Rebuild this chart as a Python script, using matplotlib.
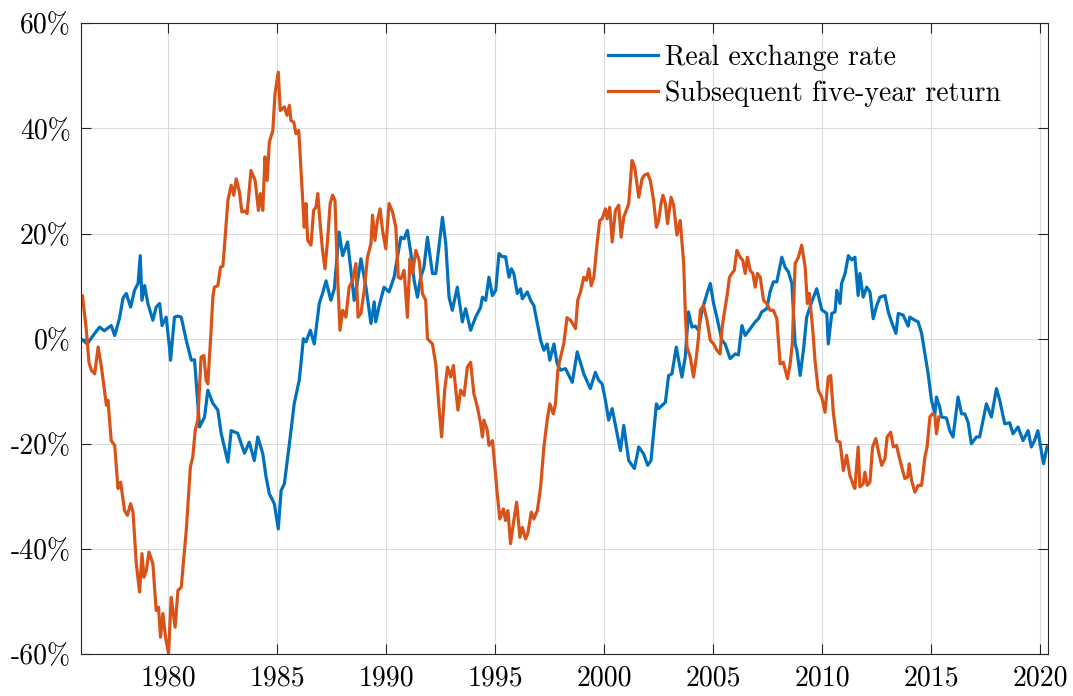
import matplotlib
matplotlib.use("Agg")
import matplotlib.pyplot as plt
from matplotlib.ticker import FuncFormatter

plt.rcParams['font.family'] = ['cmr10', 'DejaVu Serif']
plt.rcParams['mathtext.fontset'] = 'cm'
plt.rcParams['axes.unicode_minus'] = False

# real exchange rate (%)
rer_year = [1976.00, 1976.11, 1976.30, 1976.64, 1976.87, 1977.08, 1977.40, 1977.56, 1977.78, 1977.94,
            1978.09, 1978.29, 1978.47, 1978.63, 1978.73, 1978.81, 1978.93, 1979.08, 1979.31, 1979.46,
            1979.62, 1979.73, 1979.92, 1980.07, 1980.12, 1980.30, 1980.46, 1980.61, 1980.84, 1981.07,
            1981.22, 1981.45, 1981.68, 1981.83, 1982.06, 1982.29, 1982.44, 1982.75, 1982.90, 1983.20,
            1983.51, 1983.73, 1983.96, 1984.12, 1984.35, 1984.50, 1984.65, 1984.88, 1985.06, 1985.19,
            1985.34, 1985.57, 1985.79, 1986.02, 1986.10, 1986.21, 1986.33, 1986.53, 1986.71, 1986.94,
            1987.09, 1987.25, 1987.47, 1987.63, 1987.85, 1988.01, 1988.24, 1988.39, 1988.54, 1988.70,
            1988.85, 1989.08, 1989.31, 1989.46, 1989.53, 1989.69, 1989.91, 1990.14, 1990.37, 1990.68,
            1990.83, 1990.98, 1991.14, 1991.29, 1991.44, 1991.59, 1991.74, 1991.90, 1992.13, 1992.28,
            1992.59, 1992.74, 1992.89, 1993.04, 1993.27, 1993.50, 1993.65, 1993.88, 1994.11, 1994.34,
            1994.42, 1994.57, 1994.72, 1994.88, 1995.03, 1995.18, 1995.33, 1995.48, 1995.64, 1995.75,
            1995.86, 1996.02, 1996.17, 1996.25, 1996.48, 1996.63, 1996.78, 1996.94, 1997.09, 1997.24,
            1997.39, 1997.51, 1997.70, 1997.85, 1998.00, 1998.23, 1998.54, 1998.77, 1998.84, 1999.07,
            1999.37, 1999.60, 1999.75, 1999.91, 2000.06, 2000.21, 2000.37, 2000.60, 2000.75, 2000.90,
            2001.13, 2001.39, 2001.59, 2001.81, 2002.00, 2002.15, 2002.40, 2002.50, 2002.81, 2002.96,
            2003.11, 2003.31, 2003.42, 2003.57, 2003.72, 2003.87, 2004.03, 2004.18, 2004.33, 2004.49,
            2004.72, 2004.87, 2005.02, 2005.17, 2005.40, 2005.55, 2005.78, 2006.01, 2006.16, 2006.32,
            2006.47, 2006.70, 2006.93, 2007.08, 2007.23, 2007.46, 2007.61, 2007.76, 2007.92, 2008.15,
            2008.30, 2008.45, 2008.61, 2008.76, 2008.84, 2008.99, 2009.14, 2009.29, 2009.52, 2009.75,
            2009.98, 2010.21, 2010.28, 2010.44, 2010.59, 2010.67, 2010.82, 2010.89, 2011.05, 2011.20,
            2011.35, 2011.50, 2011.65, 2011.73, 2011.88, 2012.04, 2012.19, 2012.34, 2012.50, 2012.65,
            2012.88, 2013.03, 2013.18, 2013.38, 2013.49, 2013.71, 2013.94, 2014.02, 2014.25, 2014.40,
            2014.56, 2014.71, 2014.86, 2015.01, 2015.17, 2015.24, 2015.39, 2015.47, 2015.70, 2015.85,
            2016.00, 2016.23, 2016.39, 2016.54, 2016.69, 2016.84, 2017.07, 2017.22, 2017.38, 2017.53,
            2017.76, 2017.99, 2018.14, 2018.37, 2018.60, 2018.75, 2018.98, 2019.21, 2019.44, 2019.59,
            2019.74, 2019.89, 2019.97, 2020.15, 2020.31]
rer_val = [0.0, -0.3, -1.0, 1.0, 2.2, 1.5, 2.5, 0.6, 3.9, 7.7,
           8.6, 6.0, 9.2, 10.5, 15.8, 7.3, 10.1, 6.7, 3.5, 6.0,
           6.7, 2.5, 4.1, -1.6, -4.1, 4.1, 4.3, 4.1, -0.3, -4.1,
           -4.0, -16.8, -14.9, -9.8, -12.3, -13.6, -18.0, -23.5, -17.5, -18.0,
           -21.8, -19.7, -23.2, -18.7, -21.9, -26.3, -29.5, -31.4, -36.2, -28.9,
           -27.6, -20.0, -12.4, -7.9, -4.8, 0.0, -0.6, 1.6, -1.0, 6.7,
           8.6, 11.0, 7.3, 9.5, 20.3, 15.8, 18.4, 13.0, 7.3, 11.1,
           15.2, 9.8, 2.9, 7.0, 3.2, 6.3, 9.8, 8.9, 11.7, 19.3,
           19.0, 20.6, 16.2, 11.1, 7.9, 11.7, 13.6, 19.3, 12.4, 12.4,
           23.1, 18.1, 7.9, 5.4, 9.8, 3.2, 5.7, 1.6, 4.1, 6.0,
           7.9, 7.3, 11.7, 8.2, 9.2, 16.2, 15.6, 15.6, 11.7, 13.3,
           12.4, 8.6, 9.5, 7.6, 8.9, 7.3, 6.3, 2.9, -0.3, -2.2,
           -1.0, -4.1, -1.0, -4.8, -6.0, -5.7, -8.3, -2.5, -3.5, -6.7,
           -9.5, -6.4, -7.9, -8.6, -11.7, -15.5, -13.3, -18.1, -21.3, -16.5,
           -23.2, -24.7, -20.6, -21.9, -24.1, -23.2, -12.4, -13.3, -12.1, -7.0,
           -6.7, -1.6, -4.1, -7.3, -3.5, 5.1, 2.2, 2.4, 1.6, 5.4,
           8.6, 10.5, 6.7, 4.1, -0.3, -1.0, -3.8, -2.9, -3.1, 2.5,
           0.6, 1.9, 3.2, 3.8, 5.1, 5.7, 8.9, 10.8, 10.8, 15.5,
           13.6, 12.7, 10.5, -1.0, -2.2, -7.0, -2.2, 4.1, 7.0, 9.5,
           5.5, 4.8, -1.0, 4.8, 5.1, 9.2, 6.7, 10.5, 12.4, 15.8,
           15.0, 15.5, 8.2, 12.4, 7.9, 9.8, 8.9, 3.8, 6.3, 7.9,
           8.2, 5.1, 3.2, 1.0, 4.8, 4.5, 2.4, 4.1, 3.5, 3.2,
           1.0, -2.9, -6.7, -11.7, -14.3, -11.1, -13.0, -14.9, -15.1, -17.5,
           -18.7, -11.1, -14.3, -14.3, -15.9, -20.0, -18.7, -18.7, -15.5, -12.4,
           -14.9, -9.5, -11.7, -16.2, -16.0, -18.1, -16.8, -19.4, -17.5, -20.6,
           -19.4, -17.5, -19.4, -23.8, -20.6]

# subsequent five-year return (%)
ret_year = [1976.00, 1976.08, 1976.25, 1976.38, 1976.49, 1976.64, 1976.80, 1976.95, 1977.18, 1977.25,
            1977.40, 1977.56, 1977.71, 1977.83, 1978.01, 1978.14, 1978.29, 1978.40, 1978.55, 1978.70,
            1978.81, 1978.90, 1979.01, 1979.13, 1979.31, 1979.46, 1979.57, 1979.66, 1979.77, 1979.89,
            1980.03, 1980.15, 1980.33, 1980.46, 1980.61, 1980.84, 1981.03, 1981.14, 1981.25, 1981.37,
            1981.52, 1981.65, 1981.75, 1981.83, 1981.98, 1982.06, 1982.13, 1982.29, 1982.41, 1982.52,
            1982.59, 1982.75, 1982.90, 1983.02, 1983.13, 1983.28, 1983.39, 1983.51, 1983.63, 1983.81,
            1984.00, 1984.15, 1984.24, 1984.35, 1984.45, 1984.55, 1984.65, 1984.81, 1984.91, 1985.06,
            1985.15, 1985.34, 1985.46, 1985.57, 1985.64, 1985.77, 1985.87, 1986.00, 1986.18, 1986.25,
            1986.33, 1986.41, 1986.56, 1986.68, 1986.79, 1986.87, 1986.98, 1987.09, 1987.20, 1987.32,
            1987.44, 1987.55, 1987.66, 1987.78, 1987.89, 1988.01, 1988.16, 1988.31, 1988.47, 1988.62,
            1988.72, 1988.85, 1989.00, 1989.15, 1989.31, 1989.38, 1989.49, 1989.61, 1989.73, 1989.84,
            1989.99, 1990.14, 1990.30, 1990.45, 1990.56, 1990.68, 1990.83, 1990.98, 1991.10, 1991.21,
            1991.37, 1991.52, 1991.67, 1991.82, 1991.90, 1992.13, 1992.28, 1992.43, 1992.55, 1992.69,
            1992.82, 1992.97, 1993.09, 1993.20, 1993.30, 1993.42, 1993.58, 1993.73, 1993.88, 1994.03,
            1994.19, 1994.34, 1994.42, 1994.49, 1994.65, 1994.72, 1994.88, 1994.98, 1995.10, 1995.22,
            1995.38, 1995.48, 1995.59, 1995.71, 1995.84, 1995.99, 1996.14, 1996.25, 1996.40, 1996.50,
            1996.66, 1996.78, 1996.94, 1997.09, 1997.24, 1997.39, 1997.51, 1997.67, 1997.77, 1997.88,
            1997.97, 1998.15, 1998.30, 1998.46, 1998.61, 1998.69, 1998.79, 1998.92, 1999.07, 1999.19,
            1999.30, 1999.41, 1999.53, 1999.68, 1999.80, 1999.91, 2000.06, 2000.14, 2000.26, 2000.37,
            2000.52, 2000.67, 2000.78, 2000.90, 2001.13, 2001.28, 2001.40, 2001.59, 2001.74, 2001.85,
            2002.00, 2002.12, 2002.27, 2002.40, 2002.50, 2002.61, 2002.70, 2002.81, 2002.91, 2003.07,
            2003.19, 2003.34, 2003.49, 2003.65, 2003.72, 2003.80, 2003.95, 2004.10, 2004.23, 2004.33,
            2004.41, 2004.56, 2004.72, 2004.87, 2005.02, 2005.17, 2005.32, 2005.40, 2005.48, 2005.63,
            2005.75, 2005.86, 2005.97, 2006.09, 2006.24, 2006.36, 2006.47, 2006.57, 2006.70, 2006.82,
            2006.93, 2007.03, 2007.16, 2007.31, 2007.46, 2007.61, 2007.76, 2007.92, 2007.99, 2008.07,
            2008.22, 2008.41, 2008.53, 2008.63, 2008.76, 2008.91, 2009.06, 2009.22, 2009.32, 2009.41,
            2009.57, 2009.67, 2009.82, 2009.98, 2010.13, 2010.28, 2010.39, 2010.51, 2010.67, 2010.82,
            2010.97, 2011.12, 2011.27, 2011.43, 2011.50, 2011.65, 2011.73, 2011.88, 2011.96, 2012.07,
            2012.19, 2012.31, 2012.46, 2012.57, 2012.73, 2012.88, 2012.98, 2013.14, 2013.26, 2013.41,
            2013.53, 2013.69, 2013.79, 2013.92, 2013.99, 2014.10, 2014.25, 2014.40, 2014.56, 2014.71,
            2014.81, 2014.94, 2015.06, 2015.17, 2015.24, 2015.35]
ret_val = [7.0, 8.2, 2.0, -4.5, -6.0, -6.7, -1.6, -5.4, -12.7, -11.7,
           -19.4, -20.3, -28.5, -27.3, -32.7, -33.6, -31.4, -33.0, -42.8, -48.2,
           -40.9, -45.4, -44.1, -40.6, -42.8, -51.7, -51.1, -56.8, -52.3, -56.8,
           -59.9, -49.2, -54.9, -47.9, -47.3, -36.5, -24.4, -22.5, -17.5, -15.5,
           -3.5, -3.2, -7.9, -8.6, 1.6, 7.9, 9.8, 10.1, 13.6, 13.8,
           17.4, 26.3, 29.2, 27.3, 30.4, 27.9, 24.1, 24.3, 23.8, 32.0,
           30.1, 24.4, 27.6, 24.4, 34.6, 30.1, 37.4, 39.6, 46.6, 50.7,
           43.4, 44.1, 42.5, 44.4, 41.5, 41.2, 39.0, 39.6, 26.3, 21.2,
           25.7, 18.7, 17.8, 24.4, 25.0, 27.6, 21.9, 16.8, 13.3, 18.7,
           25.7, 27.3, 26.3, 11.7, 1.6, 5.4, 4.1, 9.8, 11.1, 14.3,
           4.1, 4.8, 9.2, 15.5, 18.1, 23.5, 18.7, 22.5, 24.7, 20.6,
           17.1, 25.7, 24.1, 21.2, 11.7, 11.4, 13.0, 4.1, 15.2, 12.4,
           16.8, 14.9, 8.6, 7.3, 0.0, -1.0, -4.8, -13.0, -18.7, -9.8,
           -5.4, -7.3, -5.1, -9.8, -13.6, -9.8, -10.8, -5.4, -4.5, -10.5,
           -13.0, -16.2, -18.7, -15.5, -17.5, -20.3, -19.4, -23.8, -29.5, -34.3,
           -32.4, -34.6, -32.7, -39.0, -35.2, -31.1, -37.8, -35.9, -38.1, -37.1,
           -33.0, -34.3, -32.7, -28.2, -20.6, -15.5, -12.4, -14.3, -12.4, -6.0,
           -4.1, -1.0, 4.0, 3.5, 2.5, 1.9, 7.3, 8.9, 11.7, 11.1,
           13.3, 10.1, 11.7, 18.1, 22.5, 22.8, 24.7, 22.8, 25.0, 18.4,
           24.4, 25.4, 19.3, 23.1, 25.7, 33.9, 32.7, 26.9, 30.4, 31.1,
           31.4, 30.1, 26.3, 21.2, 22.5, 25.7, 27.3, 25.7, 21.9, 26.9,
           25.4, 19.7, 22.5, 14.3, 5.4, -1.6, -3.5, -7.3, -3.5, 0.3,
           5.4, 6.3, 3.5, -0.3, -1.0, -2.2, -2.9, 1.6, 4.1, 7.9,
           11.7, 12.4, 13.0, 16.8, 15.5, 14.9, 12.4, 15.5, 13.0, 12.4,
           9.8, 12.4, 11.7, 7.3, 6.7, 5.4, 5.4, 3.8, -0.3, -4.8,
           -4.5, -7.6, -4.8, -1.0, 14.3, 15.5, 17.8, 13.6, 6.7, 8.6,
           1.6, -4.1, -9.8, -11.1, -14.0, -7.3, -7.0, -14.0, -19.4, -19.7,
           -25.1, -22.2, -26.0, -27.9, -28.5, -20.6, -28.2, -27.6, -25.4, -27.9,
           -27.3, -20.6, -19.0, -21.3, -24.1, -22.8, -18.7, -17.8, -20.6, -20.3,
           -22.5, -25.1, -26.6, -26.3, -23.8, -27.0, -29.2, -27.9, -27.9, -22.5,
           -20.6, -14.9, -14.3, -14.6, -18.1, -14.9]

x_ticks = [1980, 1985, 1990, 1995, 2000, 2005, 2010, 2015, 2020]
y_ticks = [-60, -40, -20, 0, 20, 40, 60]

fig = plt.figure(figsize=(10.73, 6.96), dpi=100)
ax = fig.add_axes([0.0752, 0.0603, 0.9012, 0.9062])

ax.plot(rer_year, rer_val, color='#0072BD', lw=2.3, label='Real exchange rate')
ax.plot(ret_year, ret_val, color='#D95319', lw=2.3, label='Subsequent five-year return')

ax.set_xlim(1976.0, 2020.34)
ax.set_ylim(-60, 60)
ax.set_xticks(x_ticks)
ax.set_yticks(y_ticks)
ax.yaxis.set_major_formatter(FuncFormatter(lambda v, p: f"{v:.0f}%"))
ax.tick_params(direction='in', length=7, width=0.8, top=True, right=True,
               labelsize=20, colors='#262626', labelcolor='black')
ax.tick_params(axis='y', pad=7)
ax.tick_params(axis='x', pad=8)
for s in ax.spines.values():
    s.set_color('#262626')
    s.set_linewidth(0.8)
ax.grid(True, color='#dcdcdc', lw=0.8)
ax.set_axisbelow(True)

ax.legend(loc='upper left', bbox_to_anchor=(0.545, 0.966), frameon=False,
          fontsize=20, handlelength=1.8, handletextpad=0.25, labelspacing=0.33,
          borderpad=0, borderaxespad=0)

plt.savefig('out.png', dpi=100)
